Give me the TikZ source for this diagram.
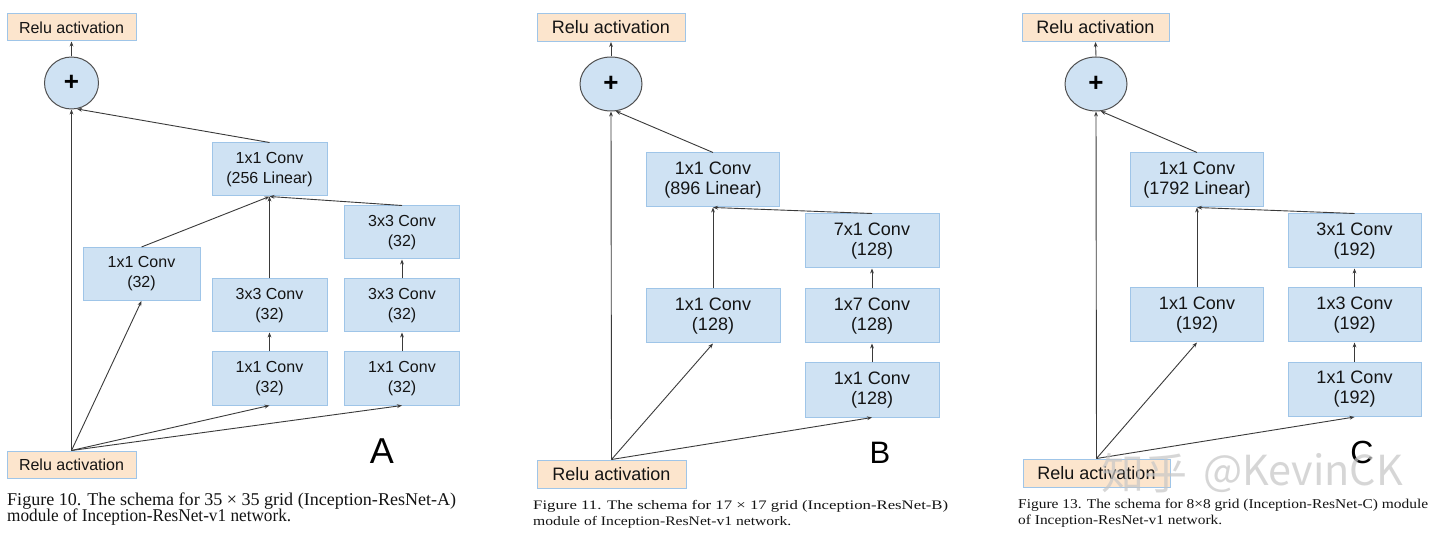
\documentclass[tikz,border=0pt]{standalone}
\usepackage{graphicx}
\usepackage{fontspec}
\setmainfont{Liberation Sans}
\newfontfamily\capfont{Liberation Serif}
\newfontfamily\cjkfont{Noto Sans CJK SC}
\usetikzlibrary{shapes.geometric,arrows.meta}
\definecolor{boxfill}{HTML}{CFE2F3}
\definecolor{boxline}{HTML}{9FC5E8}
\definecolor{relufill}{HTML}{FCE5CD}
\definecolor{arrowc}{HTML}{3A3A3A}
\definecolor{circline}{HTML}{505050}
\definecolor{txt}{HTML}{141414}
\begin{document}
\begin{tikzpicture}[x=1pt,y=-1pt,
  convA/.style={draw=boxline, fill=boxfill, line width=1pt, minimum width=115pt, minimum height=53pt, inner sep=0pt, align=center, text=txt, font=\fontsize{16}{20}\selectfont},
  convB/.style={convA, minimum width=133pt, minimum height=54pt, font=\fontsize{18}{20}\selectfont},
  reluA/.style={draw=boxline, fill=relufill, line width=1pt, minimum width=129pt, minimum height=27pt, inner sep=0pt, text=txt, font=\fontsize{16}{20}\selectfont},
  reluB/.style={reluA, minimum width=148pt, minimum height=28pt, font=\fontsize{18}{20}\selectfont},
  plusA/.style={ellipse, draw=circline, fill=boxfill, line width=1pt, minimum width=54pt, minimum height=52pt, inner sep=0pt, text=black, font=\bfseries\fontsize{26}{26}\selectfont},
  plusB/.style={plusA, minimum width=62pt, minimum height=54pt},
  arr/.style={-{Stealth[length=5pt,width=3.8pt]}, draw=arrowc, line width=0.9pt},
  lab/.style={text=black, inner sep=0pt},
  captxt/.style={anchor=base west, inner sep=0pt, text=txt},
  wmark/.style={text=gray!45, opacity=0.7, inner sep=0pt}
]
\fill[white] (0,0) rectangle (1440,534);
\useasboundingbox (0,0) rectangle (1440,534);

% ---------------- Panel A ----------------
\node[reluA] (reluTopA) at (71.5,27.5) {Relu activation};
\node[plusA] (plusA) at (71.5,83) {+};
\node[convA] (linA) at (269.5,169.5) {1x1 Conv\\(256 Linear)};
\node[convA] (c3tA) at (402,232.5) {3x3 Conv\\(32)};
\node[convA, minimum width=117pt] (c1lA) at (141.5,274) {1x1 Conv\\(32)};
\node[convA] (c33mA) at (269.5,305.5) {3x3 Conv\\(32)};
\node[convA] (c11mA) at (269.5,378.5) {1x1 Conv\\(32)};
\node[convA] (c33rA) at (402,305.5) {3x3 Conv\\(32)};
\node[convA] (c11rA) at (402,378.5) {1x1 Conv\\(32)};
\node[reluA] (reluBotA) at (71.5,464.5) {Relu activation};
\node[lab, font=\fontsize{36}{36}\selectfont] (labA) at (382,451) {A};

\draw[arr] (plusA.north) -- (reluTopA.south);
\draw[arr] (reluBotA.north) -- (plusA.south);
\draw[arr] (linA.north) -- (plusA.-78);
\draw[arr] (reluBotA.north) -- (c1lA.south);
\draw[arr] (reluBotA.north) -- (c11mA.south);
\draw[arr] (reluBotA.north) -- (c11rA.south);
\draw[arr] (c11mA.north) -- (c33mA.south);
\draw[arr] (c33mA.north) -- (linA.south);
\draw[arr] (c1lA.north) -- (linA.south);
\draw[arr] (c11rA.north) -- (c33rA.south);
\draw[arr] (c33rA.north) -- (c3tA.south);
\draw[arr] (c3tA.north) -- (linA.south);

\node[captxt] (capA1) at (7,505) {\resizebox{449pt}{\height}{\capfont\fontsize{18}{18}\selectfont Figure 10. The schema for 35 × 35 grid (Inception-ResNet-A)}};
\node[captxt] (capA2) at (7,521) {\resizebox{284pt}{\height}{\capfont\fontsize{18}{18}\selectfont module of Inception-ResNet-v1 network.}};

% ---------------- Panel B ----------------
\node[reluB] (reluTopB) at (611,27.5) {Relu activation};
\node[plusB] (plusB) at (611,84) {+};
\node[convB] (linB) at (713,180) {1x1 Conv\\(896 Linear)};
\node[convB, minimum width=134pt] (c71B) at (872,241) {7x1 Conv\\(128)};
\node[convB, minimum width=134pt] (c11lB) at (713,316) {1x1 Conv\\(128)};
\node[convB, minimum width=134pt] (c17B) at (872,316) {1x7 Conv\\(128)};
\node[convB, minimum width=134pt] (c11rB) at (872,390) {1x1 Conv\\(128)};
\node[reluB, minimum width=149pt] (reluBotB) at (611.5,474) {Relu activation};
\node[lab, font=\fontsize{31}{31}\selectfont] (labB) at (880,453) {B};

\draw[arr] (plusB.north) -- (reluTopB.south);
\draw[arr] (reluBotB.north) -- (plusB.south);
\draw[arr] (linB.north) -- (plusB.-80);
\draw[arr] (reluBotB.north) -- (c11lB.south);
\draw[arr] (reluBotB.north) -- (c11rB.south);
\draw[arr] (c11lB.north) -- (linB.south);
\draw[arr] (c11rB.north) -- (c17B.south);
\draw[arr] (c17B.north) -- (c71B.south);
\draw[arr] (c71B.north) -- (linB.south);

\node[captxt] (capB1) at (533,509) {\resizebox{415pt}{\height}{\capfont\fontsize{13}{13}\selectfont Figure 11. The schema for 17 × 17 grid (Inception-ResNet-B)}};
\node[captxt] (capB2) at (533,525) {\resizebox{258pt}{\height}{\capfont\fontsize{13}{13}\selectfont module of Inception-ResNet-v1 network.}};

% ---------------- Panel C ----------------
\node[reluB, minimum width=147pt] (reluTopC) at (1095.5,27.5) {Relu activation};
\node[plusB] (plusC) at (1096,84) {+};
\node[convB] (linC) at (1197,180) {1x1 Conv\\(1792 Linear)};
\node[convB] (c31C) at (1354.5,241) {3x1 Conv\\(192)};
\node[convB] (c11lC) at (1197,315) {1x1 Conv\\(192)};
\node[convB] (c13C) at (1354.5,315) {1x3 Conv\\(192)};
\node[convB] (c11rC) at (1354.5,389.5) {1x1 Conv\\(192)};
\node[reluB, minimum width=147pt] (reluBotC) at (1096.5,473) {Relu activation};
\node[lab, font=\fontsize{32}{32}\selectfont] (labC) at (1362,452) {C};

\draw[arr] (plusC.north) -- (reluTopC.south);
\draw[arr] (reluBotC.north) -- (plusC.south);
\draw[arr] (linC.north) -- (plusC.-80);
\draw[arr] (reluBotC.north) -- (c11lC.south);
\draw[arr] (reluBotC.north) -- (c11rC.south);
\draw[arr] (c11lC.north) -- (linC.south);
\draw[arr] (c11rC.north) -- (c13C.south);
\draw[arr] (c13C.north) -- (c31C.south);
\draw[arr] (c31C.north) -- (linC.south);

\node[captxt] (capC1) at (1018,508) {\resizebox{410pt}{\height}{\capfont\fontsize{13.5}{13.5}\selectfont Figure 13. The schema for 8×8 grid (Inception-ResNet-C) module}};
\node[captxt] (capC2) at (1018,524) {\resizebox{204pt}{\height}{\capfont\fontsize{13.5}{13.5}\selectfont of Inception-ResNet-v1 network.}};

% watermark
\node[wmark] (wm1) at (1144,473) {\resizebox{86pt}{!}{\cjkfont\fontsize{40}{40}\selectfont 知乎}};
\node[wmark] (wm2) at (1303,473) {\resizebox{200pt}{!}{\cjkfont\fontsize{40}{40}\selectfont @KevinCK}};
\end{tikzpicture}
\end{document}
